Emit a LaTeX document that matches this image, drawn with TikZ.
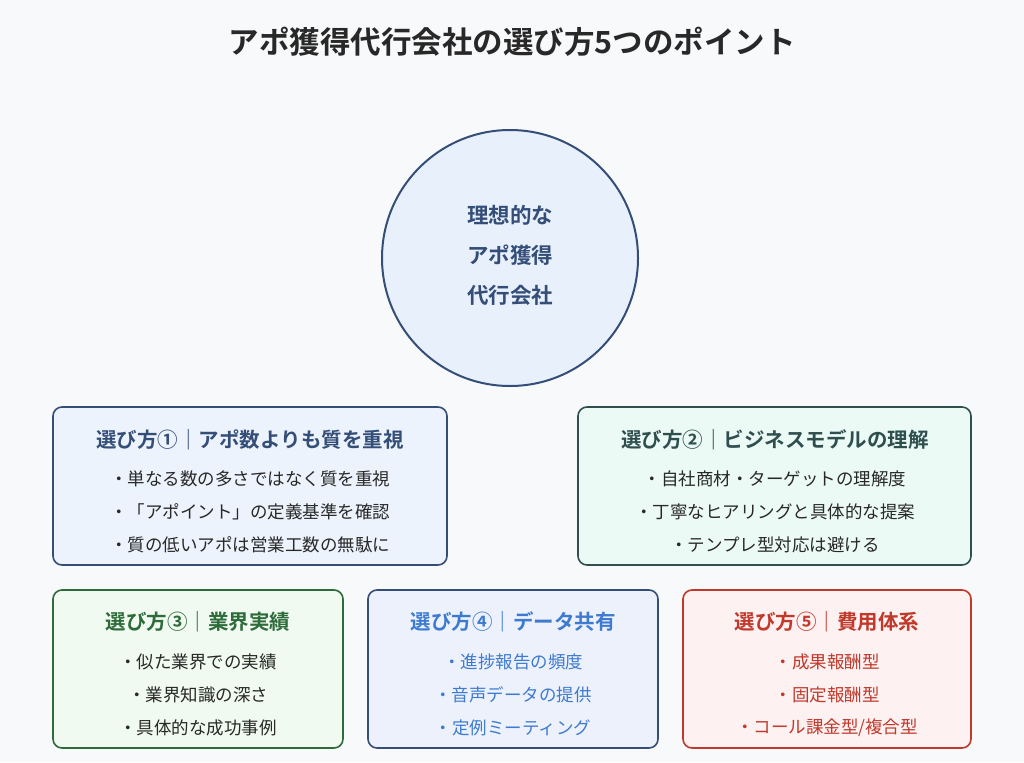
\documentclass[tikz,border=0pt]{standalone}
\usepackage{fontspec}
\setmainfont{Noto Sans CJK JP}
\newfontfamily\jpb{Noto Sans CJK JP Bold}
\definecolor{bgc}{RGB}{248,249,250}
\definecolor{navy}{RGB}{52,78,120}
\definecolor{tealc}{RGB}{47,79,79}
\definecolor{grn}{RGB}{46,107,58}
\definecolor{blu}{RGB}{62,123,208}
\definecolor{redc}{RGB}{192,57,43}
\definecolor{txt}{RGB}{40,40,40}
\definecolor{fcirc}{RGB}{232,240,252}
\definecolor{fone}{RGB}{236,243,252}
\definecolor{ftwo}{RGB}{236,250,245}
\definecolor{fthree}{RGB}{240,250,240}
\definecolor{ffour}{RGB}{236,241,252}
\definecolor{ffive}{RGB}{253,241,241}
\begin{document}
\begin{tikzpicture}[x=1pt,y=-1pt,
  card/.style={draw, line width=1.6pt, rounded corners=9pt},
  ttl/.style={font=\jpb\fontsize{20.5}{24}\selectfont, anchor=center},
  itm/.style={font=\fontsize{17.5}{20}\selectfont, anchor=center}]
\useasboundingbox (0,0) rectangle (1024,762);
\fill[bgc] (0,0) rectangle (1024,762);
\node[font=\jpb\fontsize{30.5}{34}\selectfont, text=txt] (title) at (512,42) {アポ獲得代行会社の選び方5つのポイント};
\node[circle, draw=navy, line width=2pt, fill=fcirc, minimum size=256pt] (c) at (510,258) {};
\node[font=\jpb\fontsize{21.5}{40}\selectfont, text=navy, align=center] (ct) at (510,255) {理想的な\\アポ獲得\\代行会社};
\draw[card, draw=navy, fill=fone] (53,407) rectangle (447,565);
\node[ttl, text=navy] (t1) at (250,440) {選び方①｜アポ数よりも質を重視};
\node[itm, text=txt] (a1) at (250,479) {・単なる数の多さではなく質を重視};
\node[itm, text=txt] (b1) at (250,512) {・「アポイント」の定義基準を確認};
\node[itm, text=txt] (c1) at (250,545) {・質の低いアポは営業工数の無駄に};
\draw[card, draw=tealc, fill=ftwo] (578,407) rectangle (971,565);
\node[ttl, text=tealc] (t2) at (775,440) {選び方②｜ビジネスモデルの理解};
\node[itm, text=txt] (a2) at (775,479) {・自社商材・ターゲットの理解度};
\node[itm, text=txt] (b2) at (775,512) {・丁寧なヒアリングと具体的な提案};
\node[itm, text=txt] (c2) at (775,545) {・テンプレ型対応は避ける};
\draw[card, draw=grn, fill=fthree] (53,590) rectangle (343,748);
\node[ttl, text=grn] (t3) at (198,622) {選び方③｜業界実績};
\node[itm, text=txt] (a3) at (198,662) {・似た業界での実績};
\node[itm, text=txt] (b3) at (198,695) {・業界知識の深さ};
\node[itm, text=txt] (c3) at (198,728) {・具体的な成功事例};
\draw[card, draw=navy, fill=ffour] (368,590) rectangle (658,748);
\node[ttl, text=blu] (t4) at (513,622) {選び方④｜データ共有};
\node[itm, text=blu] (a4) at (513,662) {・進捗報告の頻度};
\node[itm, text=blu] (b4) at (513,695) {・音声データの提供};
\node[itm, text=blu] (c4) at (513,728) {・定例ミーティング};
\draw[card, draw=redc, fill=ffive] (683,590) rectangle (971,748);
\node[ttl, text=redc] (t5) at (827,622) {選び方⑤｜費用体系};
\node[itm, text=redc] (a5) at (827,662) {・成果報酬型};
\node[itm, text=redc] (b5) at (827,695) {・固定報酬型};
\node[itm, text=redc] (c5) at (827,728) {・コール課金型/複合型};
\end{tikzpicture}
\end{document}
